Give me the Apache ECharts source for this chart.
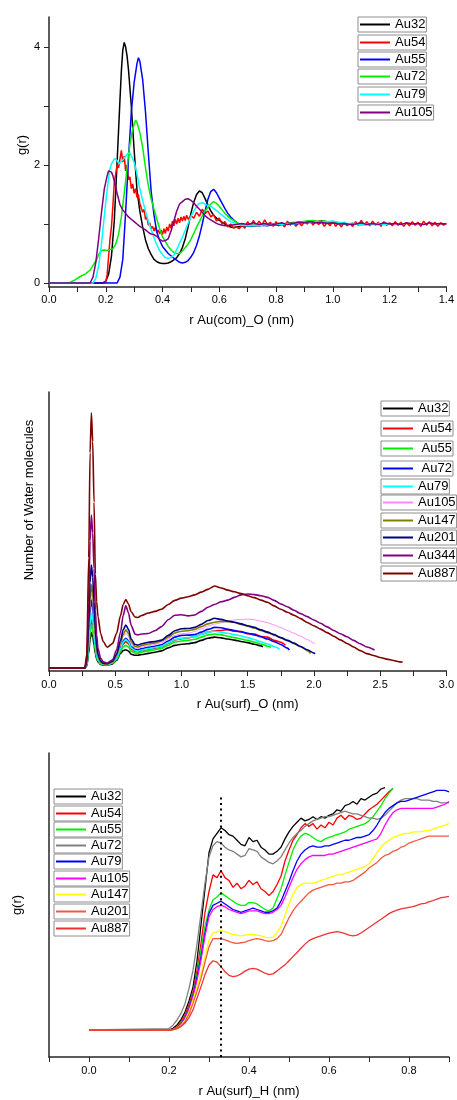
<!DOCTYPE html>
<html><head><meta charset="utf-8">
<script src="https://cdn.jsdelivr.net/npm/echarts@6/dist/echarts.min.js"></script>
<style>html,body{margin:0;padding:0;background:#fff}#c{width:457px;height:1100px}</style>
</head><body><div id="c"></div>
<script>
// ---------------- Panel 1 data : g(r) vs r Au(com)_O (nm) ----------------
const p1_names = ['Au32','Au54','Au55','Au72','Au79','Au105'];
const p1_Au32 = [[0,0],[0.19,0],[0.2,0.03],[0.21,0.15],[0.22,0.45],[0.23,1.05],[0.24,2.05],[0.25,3.1],[0.255,3.6],[0.26,3.95],[0.265,4.08],[0.27,4.0],[0.275,3.85],[0.28,3.62],[0.29,3.0],[0.30,2.25],[0.31,1.58],[0.32,1.22],[0.33,0.95],[0.34,0.73],[0.35,0.58],[0.36,0.48],[0.37,0.4],[0.38,0.36],[0.39,0.34],[0.40,0.33],[0.41,0.33],[0.42,0.34],[0.43,0.36],[0.44,0.39],[0.45,0.43],[0.46,0.5],[0.47,0.6],[0.48,0.75],[0.49,0.95],[0.50,1.18],[0.51,1.37],[0.52,1.5],[0.53,1.56],[0.54,1.53],[0.55,1.43],[0.56,1.32],[0.57,1.22],[0.58,1.15],[0.59,1.1],[0.60,1.06],[0.62,1.0],[0.63,0.97],[0.64,0.95],[0.65,0.94],[0.66,0.95],[0.68,0.96],[0.70,0.97],[0.72,0.98],[0.74,0.97],[0.76,0.99],[0.78,1.0],[0.80,0.99],[0.82,1.0],[0.84,1.01],[0.86,1.02],[0.88,1.03],[0.90,1.04],[0.92,1.05],[0.94,1.04],[0.96,1.05],[0.98,1.04],[1.0,1.03],[1.02,1.02],[1.04,1.01],[1.06,1.0],[1.08,1.0],[1.10,0.99],[1.12,0.99]];
const p1_Au54 = [[0,0],[0.19,0],[0.2,0.02],[0.205,0.15],[0.21,0.45],[0.215,0.75],[0.22,0.95],[0.225,1.3],[0.23,1.7],[0.235,1.85],[0.24,2.0],[0.245,1.95],[0.25,2.1],[0.255,2.25],[0.26,2.05],[0.265,2.15],[0.27,1.9],[0.275,2.0],[0.28,1.75],[0.285,1.8],[0.29,1.6],[0.295,1.68],[0.30,1.52],[0.305,1.6],[0.31,1.45],[0.315,1.5],[0.32,1.35],[0.325,1.38],[0.33,1.2],[0.335,1.25],[0.34,1.08],[0.345,1.12],[0.35,0.98],[0.355,1.02],[0.36,0.92],[0.365,0.96],[0.37,0.88],[0.375,0.95],[0.38,0.86],[0.385,0.9],[0.39,0.83],[0.395,0.9],[0.40,0.82],[0.405,0.92],[0.41,0.84],[0.415,0.95],[0.42,0.88],[0.425,1.0],[0.43,0.93],[0.435,1.05],[0.44,0.97],[0.445,1.08],[0.45,1.0],[0.455,1.1],[0.46,1.02],[0.465,1.12],[0.47,1.05],[0.475,1.13],[0.48,1.06],[0.485,1.15],[0.49,1.08],[0.50,1.14],[0.51,1.1],[0.52,1.2],[0.53,1.13],[0.54,1.25],[0.55,1.18],[0.56,1.22],[0.57,1.12],[0.58,1.16],[0.59,1.05],[0.60,1.1],[0.61,1.0],[0.62,1.04],[0.63,0.95],[0.64,1.0],[0.65,0.93],[0.66,0.95],[0.67,0.92],[0.68,0.98],[0.69,0.93],[0.70,1.04],[0.71,0.96],[0.72,1.06],[0.73,0.97],[0.74,1.05],[0.75,0.98],[0.76,1.07],[0.77,0.99],[0.78,1.03],[0.79,0.96],[0.80,1.04],[0.81,0.97],[0.82,1.02],[0.83,0.95],[0.84,1.05],[0.85,0.98],[0.86,1.03],[0.87,0.96],[0.88,1.02],[0.89,0.97],[0.90,1.04],[0.91,1.0],[0.92,1.06],[0.93,0.98],[0.94,1.05],[0.95,0.99],[0.96,1.04],[0.97,0.96],[0.98,1.03],[0.99,0.97],[1.00,1.05],[1.01,0.96],[1.02,1.02],[1.03,0.95],[1.04,1.03],[1.05,0.97],[1.06,1.01],[1.07,0.96],[1.08,1.04],[1.09,0.98],[1.10,1.06],[1.11,0.99],[1.12,1.04],[1.13,0.97],[1.14,1.05],[1.15,0.98],[1.16,1.03],[1.17,0.96],[1.18,1.04],[1.19,0.98],[1.20,1.02],[1.21,0.97],[1.22,1.04],[1.23,0.98],[1.24,1.03],[1.25,0.96],[1.26,1.02],[1.27,0.97],[1.28,1.04],[1.29,0.98],[1.30,1.03],[1.31,0.96],[1.32,1.05],[1.33,0.98],[1.34,1.04],[1.35,0.97],[1.36,1.03],[1.37,0.96],[1.38,1.02],[1.39,0.98],[1.40,1.01]];
const p1_Au55 = [[0,0],[0.24,0],[0.25,0.1],[0.26,0.4],[0.27,1.2],[0.28,2.1],[0.29,2.9],[0.30,3.4],[0.31,3.72],[0.315,3.82],[0.32,3.76],[0.33,3.45],[0.34,2.9],[0.35,2.2],[0.36,1.55],[0.37,1.15],[0.38,0.86],[0.39,0.72],[0.40,0.62],[0.42,0.5],[0.44,0.42],[0.46,0.35],[0.47,0.34],[0.48,0.35],[0.49,0.38],[0.50,0.44],[0.51,0.52],[0.52,0.64],[0.53,0.8],[0.54,1.0],[0.55,1.22],[0.56,1.42],[0.57,1.55],[0.58,1.59],[0.59,1.53],[0.60,1.44],[0.61,1.35],[0.62,1.26],[0.63,1.18],[0.64,1.12],[0.65,1.07],[0.66,1.03],[0.67,1.0],[0.69,0.97],[0.71,0.96],[0.73,0.97],[0.75,0.98],[0.77,0.97],[0.79,0.99],[0.81,0.98],[0.83,1.0],[0.85,1.01],[0.87,1.0],[0.89,1.02],[0.91,1.03],[0.93,1.02],[0.95,1.03],[0.97,1.02],[0.99,1.03],[1.01,1.02],[1.03,1.01],[1.05,1.0],[1.07,1.01],[1.09,0.99],[1.11,1.0],[1.12,1.0]];
const p1_Au72 = [[0,0],[0.07,0],[0.09,0.05],[0.11,0.11],[0.13,0.16],[0.145,0.22],[0.155,0.3],[0.167,0.39],[0.175,0.48],[0.184,0.55],[0.195,0.56],[0.205,0.55],[0.215,0.57],[0.225,0.58],[0.235,0.66],[0.245,0.82],[0.255,1.12],[0.265,1.52],[0.275,1.95],[0.285,2.35],[0.295,2.62],[0.305,2.76],[0.31,2.72],[0.32,2.55],[0.33,2.3],[0.34,1.95],[0.35,1.65],[0.36,1.42],[0.37,1.25],[0.38,1.08],[0.39,0.92],[0.40,0.78],[0.41,0.7],[0.42,0.62],[0.43,0.56],[0.44,0.52],[0.45,0.5],[0.46,0.5],[0.47,0.54],[0.48,0.6],[0.49,0.66],[0.50,0.74],[0.51,0.84],[0.52,0.95],[0.53,1.04],[0.54,1.14],[0.55,1.22],[0.56,1.28],[0.57,1.34],[0.58,1.38],[0.59,1.35],[0.60,1.3],[0.61,1.24],[0.62,1.18],[0.63,1.13],[0.64,1.09],[0.65,1.06],[0.66,1.03],[0.67,1.0],[0.69,0.98],[0.71,0.97],[0.73,0.98],[0.75,0.99],[0.77,0.98],[0.79,1.0],[0.81,0.99],[0.83,1.0],[0.85,1.01],[0.87,1.02],[0.89,1.04],[0.91,1.05],[0.93,1.06],[0.95,1.04],[0.97,1.05],[0.99,1.03],[1.01,1.02],[1.03,1.01],[1.05,1.0],[1.07,1.01],[1.09,0.99],[1.11,1.0],[1.13,0.99],[1.15,1.0]];
const p1_Au79 = [[0,0],[0.155,0],[0.165,0.08],[0.175,0.3],[0.184,0.62],[0.193,1.05],[0.202,1.46],[0.21,1.78],[0.2135,1.92],[0.22,2.02],[0.231,2.11],[0.24,2.08],[0.247,2.02],[0.254,2.03],[0.262,2.1],[0.27,2.15],[0.278,2.2],[0.286,2.2],[0.294,2.12],[0.301,2.03],[0.31,1.85],[0.3185,1.63],[0.33,1.4],[0.342,1.18],[0.353,1.0],[0.365,0.84],[0.377,0.68],[0.3885,0.56],[0.40,0.48],[0.41,0.43],[0.4175,0.42],[0.43,0.43],[0.441,0.48],[0.455,0.62],[0.47,0.78],[0.485,0.95],[0.4995,1.12],[0.515,1.26],[0.5285,1.35],[0.54,1.36],[0.5575,1.32],[0.57,1.3],[0.587,1.24],[0.605,1.17],[0.622,1.1],[0.64,1.04],[0.657,1.01],[0.68,0.98],[0.70,0.97],[0.72,0.98],[0.74,0.97],[0.76,0.99],[0.78,0.98],[0.80,1.0],[0.82,0.99],[0.84,1.01],[0.86,1.0],[0.88,1.02],[0.90,1.03],[0.92,1.02],[0.94,1.04],[0.96,1.03],[0.98,1.04],[1.00,1.05],[1.02,1.03],[1.04,1.02],[1.06,1.0],[1.08,1.01],[1.10,0.99],[1.12,1.0],[1.14,0.99],[1.16,1.01],[1.18,0.99],[1.20,1.0]];
const p1_Au105 = [[0,0],[0.145,0],[0.155,0.1],[0.165,0.35],[0.175,0.75],[0.185,1.2],[0.195,1.6],[0.205,1.82],[0.21,1.9],[0.215,1.92],[0.22,1.88],[0.225,1.82],[0.23,1.73],[0.24,1.52],[0.25,1.33],[0.26,1.24],[0.27,1.18],[0.28,1.12],[0.29,1.08],[0.30,1.04],[0.31,1.0],[0.32,0.96],[0.33,0.93],[0.34,0.9],[0.35,0.86],[0.36,0.83],[0.37,0.82],[0.38,0.79],[0.39,0.74],[0.40,0.71],[0.41,0.72],[0.42,0.75],[0.43,0.88],[0.44,1.05],[0.45,1.22],[0.46,1.34],[0.47,1.38],[0.48,1.42],[0.49,1.43],[0.50,1.40],[0.51,1.36],[0.52,1.3],[0.53,1.25],[0.54,1.2],[0.55,1.14],[0.56,1.1],[0.57,1.07],[0.58,1.04],[0.59,1.01],[0.60,0.99],[0.62,0.97],[0.64,0.98],[0.66,0.99],[0.68,1.01],[0.70,0.99],[0.72,1.02],[0.74,0.99],[0.76,1.01],[0.78,0.98],[0.80,1.0],[0.82,1.02],[0.84,0.99],[0.86,1.01],[0.88,1.03],[0.90,1.02],[0.92,1.04],[0.94,1.02],[0.96,1.03],[0.98,1.01],[1.00,1.02],[1.02,1.0],[1.04,1.01],[1.06,0.99],[1.08,1.0],[1.10,1.02],[1.12,0.99],[1.14,1.01],[1.16,0.99],[1.18,1.02],[1.20,1.0],[1.22,1.01],[1.24,0.99],[1.26,1.02],[1.28,1.0],[1.30,1.01],[1.32,0.99],[1.34,1.02],[1.36,1.0],[1.38,1.01],[1.40,1.0]];
const p1_xticks = [0,0.2,0.4,0.6,0.8,1.0,1.2,1.4];
const p1_yticks = [0,2,4];

// ---------------- Panel 2 data : Number of water molecules vs r Au(surf)_O ----------------
const p2_names = ['Au32','Au54','Au55','Au72','Au79','Au105','Au147','Au201','Au344','Au887'];
const p2_r = [0,0.27,0.285,0.30,0.31,0.32,0.33,0.34,0.35,0.36,0.37,0.39,0.41,0.44,0.48,0.51,0.54,0.56,0.58,0.60,0.62,0.65,0.67,0.70,0.75,0.80,0.85,0.90,0.95,1.00,1.05,1.10,1.15,1.20,1.25,1.30,1.35,1.40,1.45,1.50,1.55,1.60,1.65,1.70,1.75,1.80,1.85,1.90,1.95,2.00,2.05,2.10,2.15,2.20,2.25,2.30,2.35,2.40,2.45,2.50,2.55,2.60,2.65];
const p2_Au32 = [0,0,0.7,5.5,10.3,12.8,11.4,8.4,5.2,3.2,2.2,1.3,1.0,1.0,1.5,2.8,5.3,6.3,6.6,6.1,5.0,4.6,4.6,4.9,5.3,5.7,6.2,7.3,8.2,8.6,8.8,9.2,10.0,10.8,11.2,10.9,10.5,10.1,9.6,9.2,8.6,8.0];
const p2_Au54 = [0,0,1,7.5,14,17.4,15.5,11.3,7,4.2,2.8,1.6,1.3,1.2,1.8,3.4,6.6,8.7,9.6,8.8,6.9,6.0,5.9,6.3,6.8,7.2,7.7,8.9,10.2,10.6,10.9,11.4,12.2,13.0,13.5,13.6,13.9,13.3,13.2,12.4,12.3,11.4,11.2,10.0,9.3];
const p2_Au55 = [0,0,0.9,6.8,12.6,15.6,13.9,10.2,6.3,3.8,2.6,1.5,1.2,1.1,1.7,3.1,6,7.6,8.2,7.6,6.1,5.4,5.3,5.7,6.2,6.6,7.1,8.2,9.4,9.8,10.0,10.4,11.2,12.0,12.3,12.0,11.5,11.0,10.5,10.0,9.4,8.7,7.9];
const p2_Au72 = [0,0,1.3,10.5,20,24.6,22,16,9.5,5.5,3.5,1.9,1.4,1.3,2,3.9,7.5,9.8,10.8,9.8,7.7,6.8,6.6,7.0,7.5,7.9,8.4,9.8,11.2,11.8,11.9,12.1,13.0,14.0,14.7,14.6,14.0,13.6,13.1,12.6,12.0,11.3,10.5,9.5,8.5,7.2];
const p2_Au79 = [0,0,1.1,8.5,16,19.8,17.5,12.8,7.8,4.6,3,1.7,1.3,1.2,1.9,3.6,7,9.3,10.4,9.4,7.3,6.3,6.1,6.5,7.0,7.4,7.9,9.1,10.3,10.8,11.0,11.4,12.2,13.0,13.3,13.0,12.6,12.1,11.6,11.0,10.3,9.5,8.7,7.8];
const p2_Au105 = [0,0,1.4,12,22,27,24,17.5,10.5,6,3.8,2,1.5,1.4,2.1,4.2,8.3,11.3,12.6,11.5,8.8,7.2,7.0,7.6,8.1,8.5,9.2,10.5,11.8,12.4,12.6,13.2,14.2,15.2,15.9,16.4,17.0,17.4,17.6,17.7,17.5,17.0,16.4,15.6,14.6,13.6,12.6,11.5,10.3,9.0];
const p2_Au147 = [0,0,1.6,13,25,30.1,27,19.5,11.5,6.5,4,2,1.5,1.4,2.2,4.5,9,12.2,13.8,12.5,9.5,7.8,7.6,8.2,8.7,9.1,9.8,11.2,12.7,13.3,13.5,14.0,15.0,16.0,16.6,16.9,16.8,16.5,15.8,15.1,14.5,13.6,12.8,11.9,10.9,9.9,8.8,7.7,6.3];
const p2_Au201 = [0,0,2,16,31,37.3,33,24,14,8,5,2.5,1.7,1.6,2.5,5,10,13.8,15.6,14,10.5,8.5,8.3,8.8,9.3,9.6,10.1,11.8,13.5,14.2,14.3,14.7,15.8,17.2,18.0,17.6,17.0,16.6,16.0,15.3,14.7,13.8,13.0,12.1,11.0,10.0,9.0,7.8,6.6,5.4];
const p2_Au344 = [0,0,3,24,46,55.4,49,36,21,12,7,3.5,2.2,1.8,3,6.5,13,19,22.5,20,15.5,12.3,12,12.3,12.5,13.5,15,17.5,19.1,19.3,18.9,19.2,20.5,22,23,24,24.6,25.6,26.5,26.8,26.6,26.2,25.6,24.5,23.2,22.2,20.9,19.7,18.6,17.4,16.2,14.9,13.6,12.4,11.3,10.0,8.8,7.6];
const p2_Au887 = [0,0,5,40,78,92.5,82,60,34,24,18.6,12.5,9.5,7.5,8.9,12.5,19,23,24.8,23.2,20.4,18.5,18.3,19,19.9,20.5,21.3,23,24.5,25.3,25.8,26.5,27.5,28.5,29.7,29,28.2,27.6,27,26.2,25.5,24.6,23.8,22.5,21.3,20.2,19.1,17.9,16.5,15.3,14.1,12.8,11.5,10.2,8.9,7.6,6.3,5.2,4.5,3.8,3.2,2.7,2.2];
const p2_last = {Au32:[1.615,7.7],Au54:[1.785,8.3],Au55:[1.675,7.5],Au72:[1.815,6.5],Au79:[1.74,6.9],Au105:[2.01,8.9],Au147:[1.975,5.3],Au201:[2.01,5.2],Au344:[2.458,6.5],Au887:[2.67,2.06]};
const p2_xticks = [0,0.5,1.0,1.5,2.0,2.5,3.0];

// ---------------- Panel 3 data : g(r) vs r Au(surf)_H ----------------
const p3_names = ['Au32','Au54','Au55','Au72','Au79','Au105','Au147','Au201','Au887'];
const p3_r = [0,0.20,0.21,0.22,0.23,0.24,0.25,0.26,0.27,0.28,0.29,0.30,0.31,0.32,0.33,0.34,0.35,0.36,0.37,0.38,0.39,0.40,0.41,0.42,0.43,0.44,0.45,0.46,0.47,0.48,0.49,0.50,0.51,0.52,0.53,0.54,0.55,0.56,0.57,0.58,0.59,0.60,0.61,0.62,0.63,0.64,0.65,0.66,0.67,0.68,0.69,0.70,0.71,0.72,0.73,0.74,0.75,0.76,0.77,0.78,0.79,0.80,0.81,0.82,0.83,0.84,0.85,0.86,0.87,0.88,0.89,0.90];
const p3_Au32 = [0,0,0.012,0.036,0.075,0.13,0.21,0.31,0.5,0.76,1.02,1.28,1.38,1.42,1.46,1.44,1.41,1.40,1.37,1.34,1.33,1.39,1.36,1.37,1.32,1.30,1.27,1.27,1.29,1.32,1.38,1.43,1.47,1.50,1.53,1.51,1.52,1.54,1.52,1.54,1.53,1.55,1.56,1.59,1.58,1.62,1.63,1.65,1.63,1.67,1.66,1.68,1.70,1.71,1.74,1.75];
const p3_Au54 = [0,0,0.005,0.024,0.06,0.108,0.18,0.277,0.43,0.626,0.85,1.0,1.12,1.10,1.15,1.10,1.08,1.03,1.06,1.02,1.04,1.08,1.05,1.07,1.02,1.00,0.97,1.00,1.05,1.11,1.22,1.30,1.37,1.41,1.46,1.49,1.47,1.49,1.45,1.48,1.46,1.50,1.48,1.53,1.55,1.52,1.55,1.54,1.52,1.53,1.56,1.59,1.61,1.63,1.66,1.69,1.72,1.745];
const p3_Au55 = [0,0,0.004,0.02,0.05,0.095,0.16,0.26,0.4,0.578,0.75,0.866,0.94,0.96,0.99,0.97,0.95,0.93,0.91,0.90,0.90,0.92,0.92,0.91,0.89,0.87,0.86,0.88,0.95,1.02,1.12,1.21,1.30,1.36,1.40,1.42,1.41,1.39,1.37,1.36,1.38,1.39,1.40,1.41,1.42,1.43,1.45,1.46,1.47,1.48,1.49,1.51,1.54,1.58,1.62,1.67,1.71,1.745];
const p3_Au72 = [0,0.01,0.035,0.072,0.12,0.19,0.3,0.43,0.62,0.84,1.06,1.25,1.33,1.36,1.35,1.32,1.30,1.29,1.27,1.25,1.26,1.31,1.30,1.29,1.25,1.23,1.21,1.20,1.22,1.25,1.30,1.35,1.39,1.42,1.44,1.47,1.49,1.51,1.52,1.53,1.54,1.54,1.55,1.56,1.57,1.58,1.57,1.56,1.56,1.55,1.54,1.53,1.53,1.52,1.53,1.55,1.58,1.61,1.64,1.66,1.67,1.67,1.67,1.67,1.66,1.66,1.66,1.65,1.65,1.64,1.64,1.64];
const p3_Au79 = [0,0,0.004,0.018,0.045,0.09,0.155,0.25,0.38,0.53,0.7,0.843,0.9,0.915,0.93,0.91,0.89,0.87,0.86,0.85,0.86,0.87,0.88,0.87,0.86,0.85,0.85,0.86,0.88,0.93,1.0,1.07,1.15,1.22,1.27,1.30,1.32,1.33,1.32,1.32,1.33,1.33,1.34,1.35,1.36,1.37,1.37,1.38,1.39,1.39,1.40,1.41,1.44,1.48,1.53,1.57,1.60,1.62,1.64,1.65,1.65,1.66,1.67,1.68,1.69,1.70,1.71,1.72,1.73,1.73,1.73,1.72];
const p3_Au105 = [0,0,0.004,0.017,0.043,0.085,0.15,0.24,0.36,0.505,0.68,0.818,0.87,0.89,0.90,0.89,0.87,0.86,0.85,0.84,0.85,0.86,0.86,0.86,0.85,0.84,0.84,0.85,0.87,0.90,0.96,1.03,1.10,1.16,1.20,1.23,1.25,1.26,1.26,1.26,1.26,1.27,1.27,1.28,1.29,1.30,1.31,1.32,1.33,1.34,1.35,1.36,1.37,1.38,1.42,1.48,1.53,1.57,1.59,1.60,1.60,1.60,1.60,1.60,1.60,1.60,1.60,1.60,1.61,1.62,1.63,1.65];
const p3_Au147 = [0,0,0.003,0.013,0.035,0.07,0.13,0.217,0.31,0.409,0.53,0.65,0.70,0.71,0.717,0.71,0.70,0.69,0.685,0.68,0.685,0.69,0.69,0.685,0.68,0.67,0.665,0.67,0.70,0.75,0.83,0.91,0.98,1.03,1.05,1.06,1.06,1.06,1.07,1.08,1.09,1.10,1.11,1.12,1.12,1.13,1.14,1.15,1.16,1.17,1.18,1.20,1.24,1.28,1.32,1.35,1.37,1.39,1.40,1.41,1.42,1.42,1.43,1.43,1.43,1.44,1.44,1.45,1.46,1.47,1.48,1.49];
const p3_Au201 = [0,0,0.003,0.012,0.03,0.06,0.115,0.193,0.28,0.373,0.49,0.60,0.66,0.66,0.66,0.65,0.64,0.63,0.625,0.63,0.635,0.645,0.655,0.66,0.655,0.645,0.64,0.645,0.66,0.69,0.75,0.81,0.86,0.90,0.93,0.96,0.99,1.01,1.02,1.03,1.04,1.05,1.05,1.06,1.06,1.07,1.07,1.08,1.10,1.12,1.14,1.17,1.19,1.21,1.24,1.26,1.27,1.29,1.30,1.32,1.33,1.35,1.36,1.37,1.38,1.39,1.40,1.40,1.40,1.40,1.40,1.40];
const p3_Au887 = [0,0,0.002,0.01,0.025,0.05,0.09,0.145,0.23,0.313,0.40,0.469,0.50,0.49,0.458,0.42,0.395,0.385,0.39,0.405,0.425,0.44,0.445,0.44,0.425,0.41,0.40,0.405,0.425,0.45,0.47,0.50,0.53,0.56,0.59,0.62,0.645,0.66,0.67,0.68,0.69,0.70,0.705,0.71,0.705,0.695,0.685,0.68,0.685,0.70,0.72,0.74,0.76,0.78,0.80,0.82,0.84,0.855,0.865,0.875,0.88,0.885,0.89,0.90,0.91,0.915,0.925,0.935,0.945,0.955,0.96,0.965];
const p3_marker = [[0.33,-0.195],[0.33,1.685]];
const p3_xticks = [0,0.2,0.4,0.6,0.8];

// ---------------- styling (not data) ----------------
const FONT = "'Liberation Sans', Arial, Helvetica, sans-serif";
const AX = '#262626';
const p1_colors = {Au32:'#000000',Au54:'#ff0000',Au55:'#0000ff',Au72:'#00ee00',Au79:'#00ffff',Au105:'#800080'};
const p2_colors = {Au32:'#000000',Au54:'#ff0000',Au55:'#00ee00',Au72:'#0000ff',Au79:'#00ffff',Au105:'#ff88ff',Au147:'#808000',Au201:'#000080',Au344:'#800080',Au887:'#800000'};
const p3_colors = {Au32:'#000000',Au54:'#ff0000',Au55:'#00ee00',Au72:'#808080',Au79:'#0000ff',Au105:'#ff00ff',Au147:'#ffff00',Au201:'#f05a3c',Au887:'#f03232'};

const p1_data = {Au32:p1_Au32,Au54:p1_Au54,Au55:p1_Au55,Au72:p1_Au72,Au79:p1_Au79,Au105:p1_Au105};
const p2_vals = {Au32:p2_Au32,Au54:p2_Au54,Au55:p2_Au55,Au72:p2_Au72,Au79:p2_Au79,Au105:p2_Au105,Au147:p2_Au147,Au201:p2_Au201,Au344:p2_Au344,Au887:p2_Au887};
const p3_vals = {Au32:p3_Au32,Au54:p3_Au54,Au55:p3_Au55,Au72:p3_Au72,Au79:p3_Au79,Au105:p3_Au105,Au147:p3_Au147,Au201:p3_Au201,Au887:p3_Au887};

const series = [];
p1_names.forEach(n => series.push({
  name:'a|'+n, type:'line', xAxisIndex:0, yAxisIndex:0, data:p1_data[n],
  symbol:'none', color:p1_colors[n], lineStyle:{color:p1_colors[n], width:1.5}, silent:true
}));
p2_names.forEach(n => {
  const v = p2_vals[n];
  const d = v.map((y,i)=>[p2_r[i], y]);
  d.push(p2_last[n]);
  series.push({
    name:'b|'+n, type:'line', xAxisIndex:1, yAxisIndex:1, data:d,
    symbol:'none', smooth:0.25, smoothMonotone:'x', color:p2_colors[n],
    lineStyle:{color:p2_colors[n], width:(n==='Au105'?1:1.6)}, silent:true
  });
});
p3_names.forEach(n => {
  const v = p3_vals[n];
  series.push({
    name:'c|'+n, type:'line', xAxisIndex:2, yAxisIndex:2, data:v.map((y,i)=>[p3_r[i], y]),
    symbol:'none', color:p3_colors[n], lineStyle:{color:p3_colors[n], width:1.3}, silent:true
  });
});
series.push({
  name:'marker', type:'line', xAxisIndex:2, yAxisIndex:2, data:p3_marker, symbol:'none',
  lineStyle:{color:'#000', width:2, type:[2,3.6]}, silent:true
});

// legends: one bordered box per entry
const legends = [];
function box(prefix, n, left, top, label){
  legends.push({
    data:[prefix+'|'+n], left:left, top:top, orient:'horizontal', selectedMode:false,
    itemWidth:30, itemHeight:13, padding:[1,1,1,1], itemGap:0,
    borderColor:'#8e8e8e', borderWidth:1, backgroundColor:'#fff',
    itemStyle:{opacity:0, borderWidth:0},
    formatter: label || n,
    textStyle:{fontSize:13, color:'#000', fontFamily:FONT}
  });
}
const p1_tops = [17,35,52,69,87,105];
p1_names.forEach((n,i)=>box('a', n, 358, p1_tops[i]));
const p2_tops = [401,421,441,461,479,495,513,530,548,566];
p2_names.forEach((n,i)=>box('b', n, 381, p2_tops[i], (n==='Au54'||n==='Au55'||n==='Au72') ? ' '+n : n));
const p3_tops = [789,806,822,838,854,871,887,904,921];
p3_names.forEach((n,i)=>box('c', n, 54, p3_tops[i]));

const axLine = {show:true, onZero:false, lineStyle:{color:AX, width:1.5}};
const tick = {show:true, length:5, lineStyle:{color:AX, width:1}};
const lbl = {fontSize:11, color:'#000', fontFamily:FONT};
const nameStyle = {fontSize:13, color:'#000', fontFamily:FONT};

const option = {
  animation:false,
  backgroundColor:'#fff',
  textStyle:{fontFamily:FONT},
  grid:[
    {left:49, top:17, width:400, height:270},
    {left:49, top:392, width:400, height:279},
    {left:49, top:753, width:400, height:304}
  ],
  xAxis:[
    {type:'value', gridIndex:0, min:0, max:1.4, interval:0.2, axisLine:axLine, axisTick:tick,
     minorTick:{show:true, splitNumber:2, length:5, lineStyle:{color:AX, width:1}}, splitLine:{show:false},
     axisLabel:Object.assign({margin:7, customValues:p1_xticks, formatter:v=>v.toFixed(1)}, lbl),
     name:'r Au(com)_O (nm)', nameLocation:'middle', nameGap:27, nameMoveOverlap:false,
     nameTextStyle:Object.assign({padding:[0,12,0,0]}, nameStyle)},
    {type:'value', gridIndex:1, min:0, max:3, interval:0.5, axisLine:axLine, axisTick:tick,
     minorTick:{show:true, splitNumber:2, length:5, lineStyle:{color:AX, width:1}}, splitLine:{show:false},
     axisLabel:Object.assign({margin:8, customValues:p2_xticks, formatter:v=>v.toFixed(1)}, lbl),
     name:'r Au(surf)_O (nm)', nameLocation:'middle', nameGap:27, nameMoveOverlap:false, nameTextStyle:nameStyle},
    {type:'value', gridIndex:2, min:-0.1, max:0.9, interval:0.1, axisLine:axLine, axisTick:tick,
     splitLine:{show:false},
     axisLabel:Object.assign({margin:8, customValues:p3_xticks, formatter:v=>v.toFixed(1)}, lbl),
     name:'r Au(surf)_H (nm)', nameLocation:'middle', nameGap:28, nameMoveOverlap:false, nameTextStyle:nameStyle}
  ],
  yAxis:[
    {type:'value', gridIndex:0, min:-0.068, max:4.51, axisLine:axLine,
     axisTick:Object.assign({customValues:[0,1,2,3,4]}, tick), splitLine:{show:false},
     axisLabel:Object.assign({margin:9, customValues:p1_yticks}, lbl),
     name:'g(r)', nameLocation:'middle', nameGap:20, nameMoveOverlap:false,
     nameTextStyle:Object.assign({padding:[0,0,0,14]}, nameStyle)},
    {type:'value', gridIndex:1, min:-1.09, max:100, axisLine:axLine, axisTick:{show:false},
     axisLabel:{show:false}, splitLine:{show:false},
     name:'Number of Water molecules', nameLocation:'middle', nameGap:13, nameMoveOverlap:false,
     nameTextStyle:Object.assign({padding:[0,0,0,63]}, nameStyle)},
    {type:'value', gridIndex:2, min:-0.195, max:2.0, axisLine:axLine, axisTick:{show:false},
     axisLabel:{show:false}, splitLine:{show:false},
     name:'g(r)', nameLocation:'middle', nameGap:25, nameMoveOverlap:false, nameTextStyle:nameStyle}
  ],
  legend:legends,
  series:series
};
const chart = echarts.init(document.getElementById('c'), null, {renderer:'canvas'});
chart.setOption(option);
</script></body></html>
